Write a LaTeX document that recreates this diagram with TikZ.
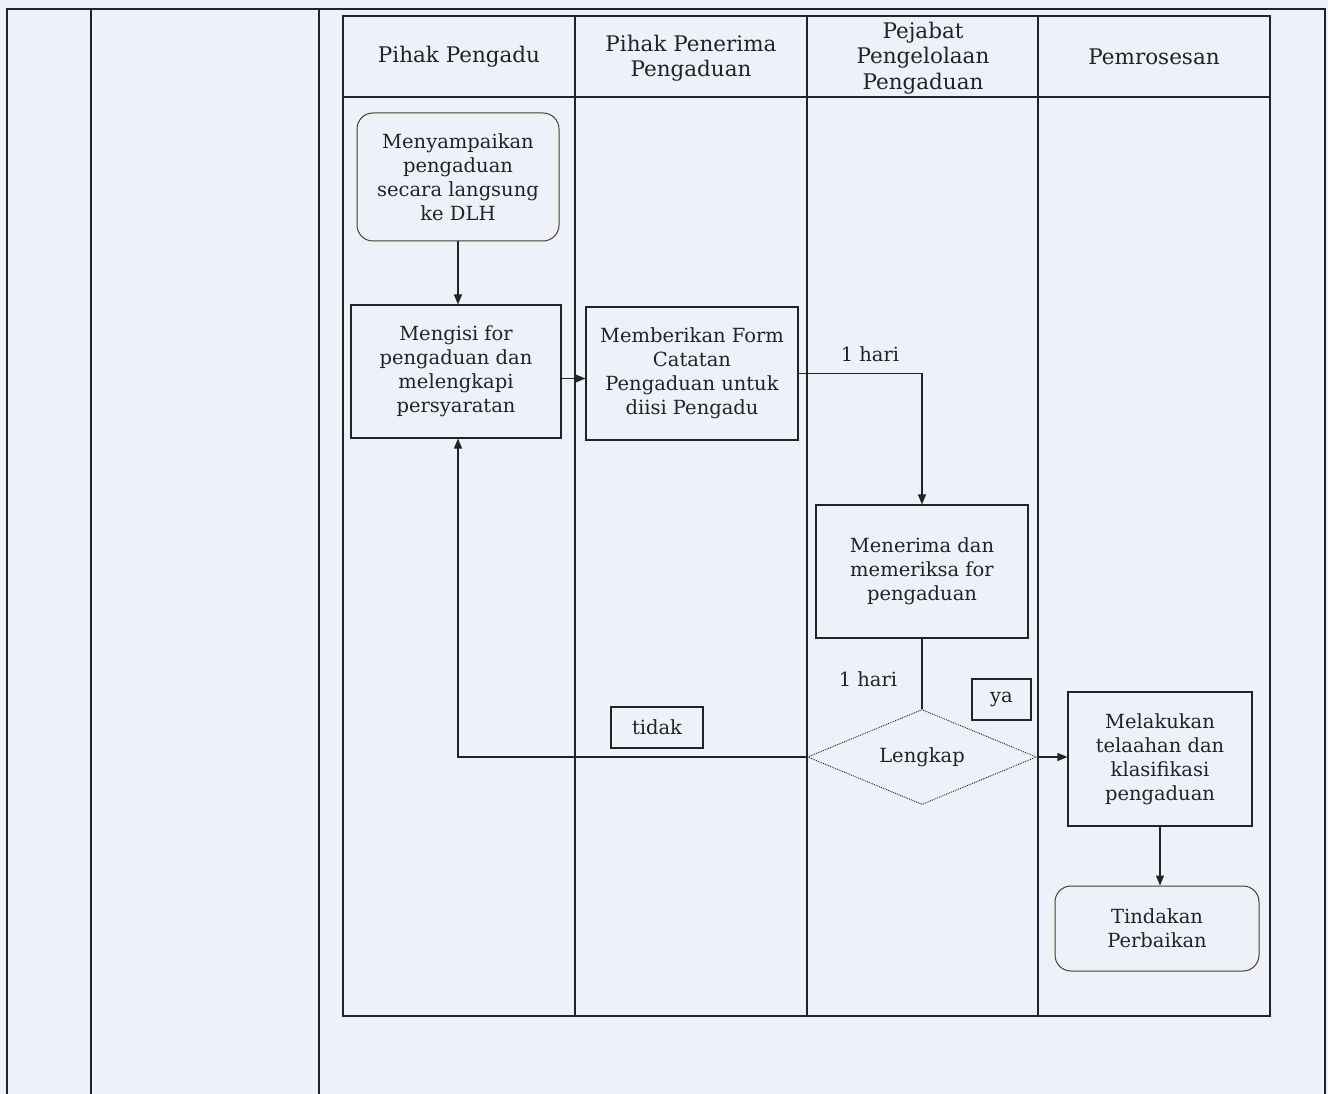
\documentclass[tikz,border=0pt]{standalone}
\usepackage{fontspec}
\setmainfont{DejaVu Serif}
\usetikzlibrary{shapes.geometric,arrows.meta}
\definecolor{bgc}{RGB}{238,241,249}
\definecolor{ink}{RGB}{35,35,35}
\definecolor{rbox}{RGB}{70,62,40}
\begin{document}
\begin{tikzpicture}[x=1pt,y=-1pt,
  every node/.style={font=\fontsize{19.5}{24}\selectfont, text=ink, align=center},
  hdr/.style={font=\fontsize{21.5}{25.5}\selectfont},
  tbl/.style={draw=ink, line width=1.2pt},
  lane/.style={draw=ink, line width=1.1pt},
  procbox/.style={draw=ink, line width=1.1pt, rectangle, inner sep=0pt},
  termbox/.style={draw=rbox, line width=1pt, rectangle, rounded corners=16pt, inner sep=0pt},
  decbox/.style={draw=ink, line width=0.9pt, densely dotted, diamond, aspect=2.4, inner sep=0pt},
  lblbox/.style={draw=ink, line width=1.1pt, rectangle, inner sep=0pt},
  conn/.style={draw=ink, line width=1.2pt},
  arr/.style={conn, -{Triangle[length=10pt,width=8pt]}}
]
\useasboundingbox (0,0) rectangle (1328,1094);
\fill[bgc] (0,0) rectangle (1328,1094);
% outer table
\draw[tbl] (7,1094) -- (7,9) -- (1325,9) -- (1325,1094);
\draw[tbl] (91,9) -- (91,1094);
\draw[tbl] (319,9) -- (319,1094);
% swimlane frame
\draw[lane] (343,16) rectangle (1270,1016);
\draw[lane] (343,97) -- (1270,97);
\foreach \xx in {575,807,1038} \draw[lane] (\xx,16) -- (\xx,1016);
% headers
\node[hdr] (h1) at (459,57) {Pihak Pengadu};
\node[hdr] (h2) at (691,58) {Pihak Penerima\\Pengaduan};
\node[hdr] (h3) at (923,58) {Pejabat\\Pengelolaan\\Pengaduan};
\node[hdr] (h4) at (1154,57) {Pemrosesan};
% nodes
\node[termbox, minimum width=202pt, minimum height=128pt] (n1) at (458,177) {Menyampaikan\\pengaduan\\secara langsung\\ke DLH};
\node[procbox, minimum width=210pt, minimum height=133pt] (n2) at (456,371.5) {Mengisi for\\pengaduan dan\\melengkapi\\persyaratan};
\node[procbox, minimum width=212pt, minimum height=133pt] (n3) at (692,373.5) {Memberikan Form\\Catatan\\Pengaduan untuk\\diisi Pengadu};
\node[procbox, minimum width=212pt, minimum height=133pt] (n4) at (922,571.5) {Menerima dan\\memeriksa for\\pengaduan};
\node[decbox, minimum width=229pt, minimum height=95pt] (d) at (922,757) {Lengkap};
\node[procbox, minimum width=184pt, minimum height=134pt] (n5) at (1160,759) {Melakukan\\telaahan dan\\klasifikasi\\pengaduan};
\node[termbox, minimum width=204pt, minimum height=85pt] (n6) at (1157,928.5) {Tindakan\\Perbaikan};
\node[lblbox, minimum width=59pt, minimum height=41pt] (ya) at (1001.5,699.5) {ya};
\node[lblbox, minimum width=92pt, minimum height=41pt] (tidak) at (657,727.5) {tidak};
\node (t1) at (870,354) {1 hari};
\node (t2) at (868,679) {1 hari};
% connectors
\draw[arr] (n1.south) -- (n1.south |- n2.north);
\draw[arr] ([yshift=-7pt]n2.east) -- ([yshift=-7pt]n2.east -| n3.west);
\draw[arr] (n3.east) -| (n4.north);
\draw[conn] (n4.south) -- (d.north);
\draw[arr] (d.west) -| ([xshift=2pt]n2.south);
\draw[arr] (d.east) -- (d.east -| n5.west);
\draw[arr] (n5.south) -- (n5.south |- n6.north);
\end{tikzpicture}
\end{document}
